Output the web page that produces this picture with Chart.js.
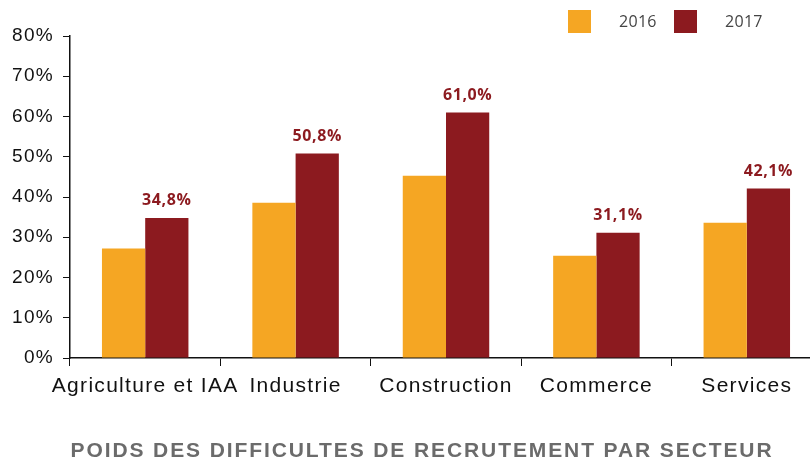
<!DOCTYPE html>
<html>
<head>
<meta charset="utf-8">
<script src="https://cdn.jsdelivr.net/npm/chart.js@4"></script>
<style>
    html, body { margin: 0; padding: 0; background: #fff; overflow: hidden; }
    #wrap { width: 822px; height: 462px; }
</style>
</head>
<body>
<div id="wrap"><canvas id="chart" width="822" height="462"></canvas></div>
<script>
const sectors = ['Agriculture et IAA', 'Industrie', 'Construction', 'Commerce', 'Services'];
const years = ['2016', '2017'];
const values2016 = [27.2, 38.6, 45.3, 25.4, 33.6];
const values2017 = [34.8, 50.8, 61.0, 31.1, 42.1];
const yTicks = [0, 10, 20, 30, 40, 50, 60, 70, 80];
const chartTitle = 'POIDS DES DIFFICULTES DE RECRUTEMENT PAR SECTEUR';

const orange = '#F5A623';
const darkRed = '#8C1A1F';
const axisFont = '"Liberation Sans", Arial, sans-serif';

// the reference text is a little wider than Arial, so space the letters a bit
const letterSpacing = {
    id: 'letterSpacing',
    beforeDraw(chart) {
        chart.ctx.letterSpacing = '1.3px';
    }
};

// value labels above the 2017 bars
const valueLabels = {
    id: 'valueLabels',
    afterDatasetsDraw(chart) {
        const ctx = chart.ctx;
        const meta = chart.getDatasetMeta(1);
        ctx.save();
        ctx.letterSpacing = '0.6px';
        ctx.font = 'bold 16px "Open Sans", sans-serif';
        ctx.fillStyle = darkRed;
        ctx.textAlign = 'center';
        ctx.textBaseline = 'bottom';
        meta.data.forEach((bar, i) => {
            const txt = values2017[i].toFixed(1).replace('.', ',') + '%';
            ctx.fillText(txt, bar.x, bar.y - 9);
        });
        ctx.restore();
    }
};

// legend top right + title under the chart
const extras = {
    id: 'extras',
    afterDraw(chart) {
        const ctx = chart.ctx;
        const colors = [orange, darkRed];
        ctx.save();
        ctx.letterSpacing = '0.3px';
        ctx.font = '16px "Open Sans", sans-serif';
        ctx.textBaseline = 'middle';
        years.forEach((y, i) => {
            const x = 568 + i * 106;
            ctx.fillStyle = colors[i];
            ctx.fillRect(x, 10, 23, 23);
            ctx.fillStyle = '#444';
            ctx.fillText(y, x + 51, 22);
        });

        ctx.letterSpacing = '1.9px';
        ctx.font = 'bold 21px ' + axisFont;
        ctx.fillStyle = '#6b6b6b';
        ctx.textAlign = 'center';
        ctx.fillText(chartTitle, 422, 451);
        ctx.restore();
    }
};

new Chart(document.getElementById('chart'), {
    type: 'bar',
    data: {
        labels: sectors,
        datasets: [
            { label: years[0], data: values2016, backgroundColor: orange },
            { label: years[1], data: values2017, backgroundColor: darkRed }
        ]
    },
    options: {
        responsive: false,
        animation: false,
        layout: { padding: { top: 36, left: 0, right: 0, bottom: 20 } },
        datasets: { bar: { categoryPercentage: 0.575, barPercentage: 1 } },
        plugins: {
            legend: { display: false },
            tooltip: { enabled: false },
            title: { display: false }
        },
        scales: {
            x: {
                grid: { display: true, drawOnChartArea: false, drawTicks: true, tickLength: 8, color: '#111', offset: true },
                border: { display: true, color: '#111', width: 1.5 },
                ticks: {
                    color: '#111',
                    padding: 8,
                    maxRotation: 0,
                    minRotation: 0,
                    autoSkip: false,
                    font: { family: axisFont, size: 21 }
                },
                afterFit: (scale) => { scale.height = 84; }
            },
            y: {
                min: 0,
                max: 80,
                afterBuildTicks: (scale) => { scale.ticks = yTicks.map(v => ({ value: v })); },
                grid: { display: true, drawOnChartArea: false, drawTicks: true, tickLength: 7, color: '#111' },
                border: { display: true, color: '#111', width: 1.5 },
                ticks: {
                    color: '#111',
                    padding: 9,
                    font: { family: axisFont, size: 19 },
                    callback: (v) => v + '%'
                },
                afterFit: (scale) => { scale.width = 70; }
            }
        }
    },
    plugins: [letterSpacing, valueLabels, extras]
});
</script>
</body>
</html>
